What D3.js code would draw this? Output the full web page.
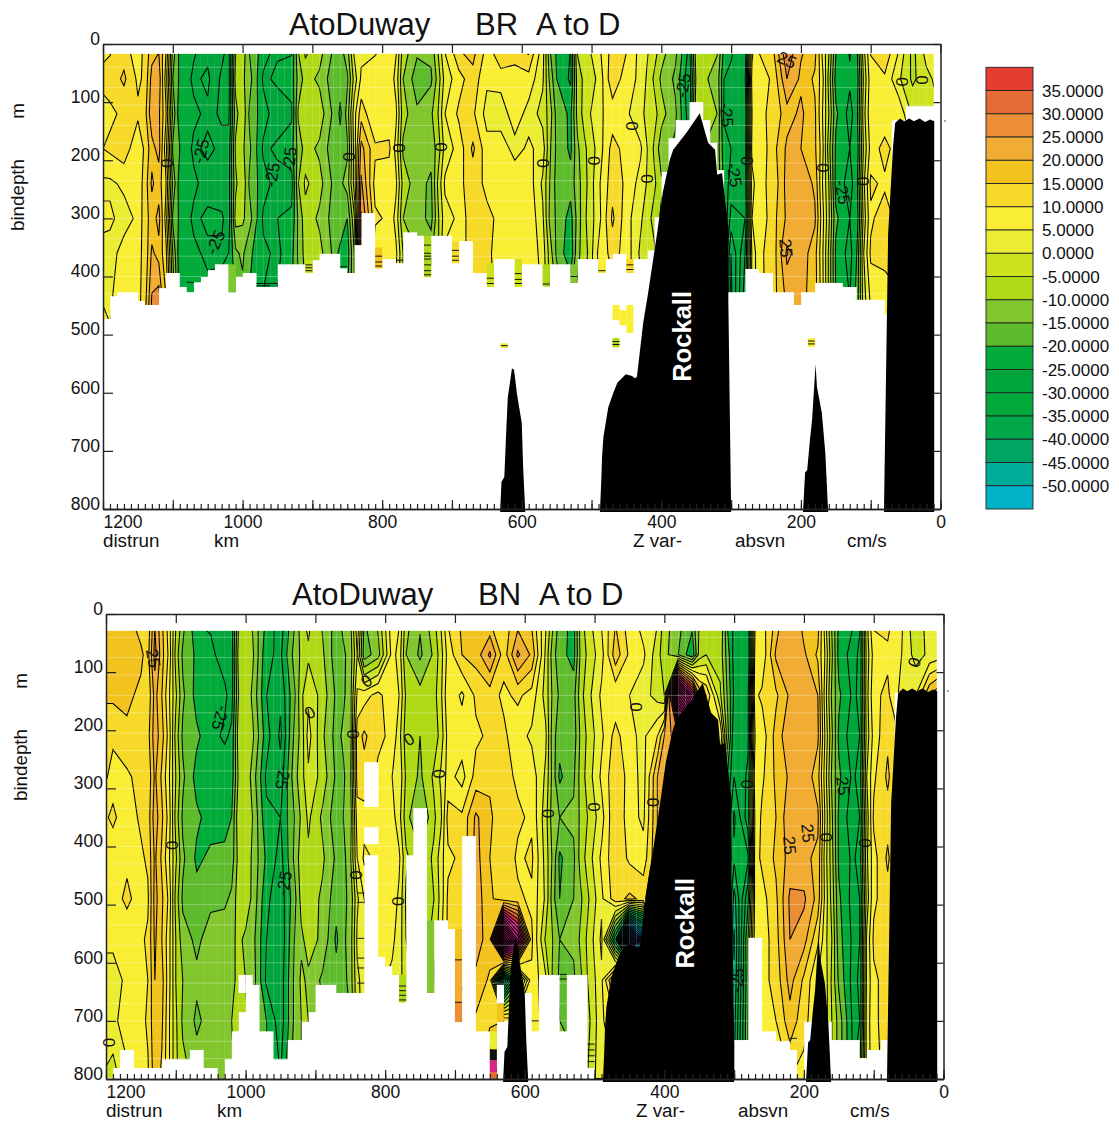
<!DOCTYPE html>
<html>
<head>
<meta charset="utf-8">
<script src="https://cdn.jsdelivr.net/npm/d3@7"></script>
<style>
  body { margin: 0; background: #fff; }
  text { font-family: "Liberation Sans", Arial, sans-serif; fill: #111; }
</style>
</head>
<body>
<div id="chart"></div>
<script>
const legendLevels = [35,30,25,20,15,10,5,0,-5,-10,-15,-20,-25,-30,-35,-40,-45,-50];
const legendLabels = ["35.0000","30.0000","25.0000","20.0000","15.0000","10.0000","5.0000","0.0000","-5.0000","-10.0000","-15.0000","-20.0000","-25.0000","-30.0000","-35.0000","-40.0000","-45.0000","-50.0000"];
const legendColors = ["#E63D33","#E66A33","#EC8E36","#F0AC33","#F2C21F","#F7DA29","#F9EE34","#EAED31","#CCE21C","#B0D915","#82C62E","#5DBB2C","#00AB39","#00A53B","#00A93A","#00A84A","#00A566","#00AB97","#00B2C6"];

// km of each profile, same for both sections
const profileKm = [1210,1190,1170,1150,1140,1130,1120,1110,1100,1090,1070,1050,1030,1020,1010,1000,990,970,950,930,
  920,910,890,870,860,850,840,830,810,790,780,770,750,730,720,710,690,670,650,630,
  610,590,570,560,550,530,520,510,490,470,450,430,410,400,380,360,350,340,320,310,
  300,280,270,260,240,220,200,180,170,160,150,130,120,110,100,80,60,40,20,0];

const brDepths = [0,60,120,180,240,300,360,480];
const brGrid = [
[7,11,6,9,4,6,4,6],[9,12,9,11,4,6,3,5],[12,16,11,13,6,3,7,7],[6,9,11,6,7,6,9,8],[12,11,13,11,12,13,11,14],
[17,22,24,18,21,17,21,28],[19,23,21,22,17,22,18,33],[11,8,11,7,11,8,12,17],[-11,-15,-11,-16,-11,-16,-10,-5],[-22,-21,-24,-20,-23,-21,-24,-20],
[-24,-26,-24,-26,-24,-26,-24,-19],[-27,-24,-26,-24,-27,-24,-26,-22],[-28,-31,-32,-26,-29,-24,-26,-21],[-31,-32,-31,-28,-27,-28,-25,-22],[-11,-8,-12,-9,-11,-8,-16,-20],
[-6,-9,-6,-9,-6,-9,-14,-18],[-16,-13,-16,-14,-16,-13,-19,-21],[-22,-26,-23,-26,-23,-26,-24,-26],[-26,-24,-28,-24,-27,-25,-26,-24],[-26,-23,-26,-22,-27,-24,-22,-20],
[-9,-13,-9,-13,-10,-14,-14,-16],[-3,-8,-5,-8,-4,-7,-8,-11],[-7,-11,-7,-11,-8,-11,-8,-11],[-15,-18,-16,-18,-16,-17,-16,-16],[-16,-18,-21,-18,-16,-15,-22,-16],
[-11,-16,-13,-16,-13,-20,-23,-20],[2,-3,3,2,2,-6,-10,-10],[3,6,13,22,26,31,32,5],[4,7,5,11,8,11,6,9],[6,9,7,11,7,9,6,5],
[6,3,6,3,6,3,6,3],[-7,-10,-8,-11,-7,-10,-5,-6],[-13,-18,-14,-11,-13,-12,-10,-6],[-13,-16,-11,-13,-16,-17,-11,-5],[-4,-8,-5,-8,-4,-6,-6,-3],
[6,2,5,2,6,3,6,5],[16,8,11,7,9,6,9,8],[18,13,11,16,12,14,11,12],[9,6,3,7,9,11,12,12],[17,7,2,8,7,9,6,8],
[16,6,8,3,9,7,8,8],[18,8,3,6,8,9,9,8],[3,1,-2,3,-1,1,3,5],[-15,-11,-7,-9,-10,-11,-7,-5],[-21,-20,-17,-16,-17,-16,-16,-8],
[-25,-26,-21,-21,-18,-22,-24,-10],[-4,-7,-8,-11,-12,-13,-11,-8],[-2,-4,-3,-6,-7,-6,-8,-5],[4,1,4,2,4,3,6,4],[12,14,7,12,13,16,12,6],
[11,7,6,8,9,7,8,6],[3,4,1,6,3,1,-1,3],[-2,-6,-3,-6,-4,-7,-4,-5],[-7,-11,-8,-13,-9,-11,-9,-10],[-13,-16,-14,-16,-13,-15,-14,-14],
[-26,-29,-28,-25,-26,-24,-26,-25],[-6,-9,-6,-9,-7,-9,-7,-8],[-6,-9,-7,-10,-7,-9,-7,-8],[-9,-12,-10,-12,-10,-12,-11,-12],[-21,-25,-26,-23,-22,-20,-23,-24],
[-24,-26,-27,-25,-27,-32,-40,-42],[-29,-26,-29,-28,-28,-30,-25,-20],[3,7,5,7,3,5,1,2],[11,7,9,6,9,6,9,8],[15,11,11,13,11,13,12,13],
[31,25,18,21,22,21,26,20],[21,19,21,20,24,21,23,21],[18,14,16,16,19,21,17,18],[4,8,6,8,6,8,7,8],[-4,-7,-5,-8,-5,-4,-6,-6],
[-19,-22,-19,-21,-22,-19,-21,-20],[-26,-24,-27,-25,-27,-25,-27,-24],[-21,-24,-22,-24,-22,-24,-20,-18],[-1,-4,-2,-4,-1,-3,0,-3],[11,8,9,7,11,9,11,4],
[16,9,6,12,9,13,11,7],[6,1,9,7,11,8,11,9],[-7,-6,-1,5,5,5,5,5],[4,-2,-1,5,5,5,5,5],[5,3,0,5,5,5,5,5]
];

const bnDepths = [0,70,140,210,280,350,420,490,560,630,700,800];
const bnGrid = [
[17,18,16,11,13,8,11,4,6,3,3,0],[16,18,16,11,8,11,7,8,6,3,4,-3],[16,17,16,14,9,7,9,11,7,6,7,4],[12,16,14,13,12,11,9,8,9,9,8,8],[11,13,11,13,11,12,11,9,11,10,11,9],
[24,27,22,23,21,23,21,22,21,20,19,18],[16,17,15,17,14,16,14,16,15,17,16,14],[7,9,6,8,6,8,6,9,7,7,6,6],[-4,-7,-4,-7,-5,-7,-4,-7,-5,-5,-4,-4],[-12,-16,-14,-16,-14,-16,-14,-16,-13,-10,-11,-8],
[-26,-21,-22,-19,-22,-19,-21,-18,-16,-14,-16,-12],[-26,-24,-21,-23,-21,-22,-19,-16,-13,-14,-13,-12],[-26,-27,-24,-26,-21,-23,-18,-16,-12,-11,-11,-11],[-28,-27,-27,-24,-23,-20,-18,-14,-11,-11,-10,-11],[-11,-8,-10,-7,-9,-6,-8,-7,-9,-9,-9,-8],
[-6,-8,-6,-8,-6,-8,-6,-7,-11,-10,-8,-8],[-11,-9,-11,-9,-12,-10,-11,-11,-13,-12,-16,-14],[-21,-24,-25,-23,-26,-24,-21,-24,-25,-26,-20,-20],[-28,-26,-29,-31,-28,-25,-27,-28,-29,-28,-28,-25],[-16,-13,-16,-14,-12,-15,-14,-17,-15,-14,-14,-12],
[-6,-9,-6,-8,-7,-9,-7,-8,-11,-9,-10,-10],[-3,-6,-1,2,-1,-4,-6,-7,-8,-11,-10,-10],[-11,-9,-7,-9,-7,-11,-9,-11,-11,-16,-14,-15],[-17,-18,-16,-17,-16,-18,-16,-18,-21,-18,-17,-17],[-13,-16,-16,-14,-16,-15,-17,-16,-16,-17,-17,-17],
[-11,-13,-12,-13,-11,-13,-11,-14,-13,-13,-15,-15],[5,0,6,13,12,8,5,-1,1,-1,-2,-5],[-15,-18,8,16,13,8,11,5,3,2,2,2],[-8,-12,12,11,9,7,9,6,7,6,7,5],[9,7,5,9,5,7,6,8,6,4,6,5],
[6,3,5,2,4,2,6,4,3,2,3,3],[-8,-10,-6,-8,-6,-8,-4,-6,-5,-3,-3,-5],[-14,-16,-8,-10,-11,-16,-9,-8,-7,-9,-10,-10],[-6,-9,-7,-8,-4,-6,-4,-5,-4,-6,-10,-10],[1,-2,-1,-3,1,-1,3,2,4,2,3,3],
[11,7,9,7,7,12,9,11,11,13,12,10],[16,15,4,8,3,11,11,13,12,14,20,25],[18,17,11,9,12,21,22,23,22,19,14,14],[13,26,12,11,14,16,15,16,18,14,13,30],[14,12,9,11,12,11,14,12,100,-50,15,15],
[16,26,11,7,9,11,9,11,60,-20,12,12],[13,19,8,4,8,9,11,9,11,9,9,8],[1,-1,-2,1,-1,-3,-2,-1,-6,1,2,2],[-8,-13,-11,-13,-12,-13,-11,-13,-10,-11,-8,-8],[-17,-18,-16,-18,-21,-15,-21,-20,-15,-16,-15,-10],
[-22,-22,-17,-18,-16,-14,-16,-15,-14,-16,-20,-10],[-7,-9,-7,-9,-8,-9,-8,-11,-9,-11,-10,-8],[-2,-4,-2,-4,-3,-5,-3,-6,-4,-5,-7,-5],[6,3,6,4,6,3,6,4,6,4,4,4],[14,18,6,12,14,15,14,13,-30,25,10,5],
[7,9,5,6,8,7,9,16,-120,45,20,10],[2,6,2,4,3,4,7,14,-80,30,20,10],[1,-3,-2,10,20,20,20,20,20,20,20,20],[-7,-8,-5,20,20,20,20,20,20,20,20,20],[-14,-15,90,30,20,20,20,20,20,20,20,20],
[-17,-24,50,20,20,20,20,20,20,20,20,20],[-10,-8,20,10,10,10,10,10,10,10,10,10],[-7,-5,15,5,5,5,5,5,5,5,5,5],[-4,-7,-4,10,0,0,0,0,0,0,0,0],[-21,-17,-15,-12,-20,-25,-25,-25,-25,-25,-25,-25],
[-26,-27,-26,-29,-30,-36,-34,-42,-46,-44,-42,-40],[-28,-30,-26,-26,-24,-22,-31,-21,-15,-16,-15,-15],[4,7,9,5,9,6,8,7,8,5,7,7],[8,6,11,7,9,11,11,8,7,8,9,8],[16,21,14,17,16,15,16,14,13,12,10,7],
[26,21,21,24,21,24,22,26,25,22,18,10],[17,21,23,21,24,22,21,26,22,14,12,8],[19,14,20,21,17,21,19,18,11,5,5,5],[2,5,3,5,3,5,3,4,2,3,3,3],[-11,-9,-11,-9,-11,-9,-8,-7,-5,-6,-5,-5],
[-21,-22,-19,-21,-19,-21,-21,-19,-18,-16,-12,-12],[-24,-27,-26,-28,-26,-28,-26,-27,-26,-27,-26,-25],[-26,-24,-24,-25,-23,-25,-23,-25,-25,-24,-25,-20],[-1,-3,-2,-3,0,-3,-1,-3,1,1,2,2],[12,7,9,7,9,11,8,9,11,9,9,8],
[12,9,11,14,16,13,16,13,11,12,12,12],[6,5,3,9,8,9,7,8,9,7,8,8],[-5,-2,5,5,5,5,5,5,5,5,5,5],[4,1,20,5,5,5,5,5,5,5,5,5],[6,3,28,5,5,5,5,5,5,5,5,5]
];

// deepest valid bin in each 10 km column, 1200 km side first
const brBottoms = [473,434,427,427,427,442,449,449,420,394,394,418,427,410,401,389,379,379,427,401,
  394,394,418,418,418,379,379,379,379,394,372,361,361,361,386,394,346,291,291,386,
  370,370,377,324,324,330,401,330,330,330,377,339,339,394,394,418,370,370,370,418,
  379,379,379,417,379,379,379,411,370,370,370,394,370,361,361,394,370,370,355,298,
  220,162,131,131,100,100,131,170,217,427,427,427,387,387,394,394,427,427,427,449,
  427,427,411,411,411,411,418,418,440,440,440,440,465,131,131,107,107,107,107,0];
const bnBottoms = [798,781,750,750,781,781,781,781,766,766,766,766,750,750,781,781,799,766,718,685,
  621,638,718,718,766,766,733,733,702,685,638,638,638,652,652,652,652,415,415,590,
  606,621,668,415,334,334,652,527,527,542,702,382,382,718,718,799,702,700,652,652,
  652,718,621,621,621,718,621,621,621,781,800,800,800,800,800,800,800,800,800,800,
  800,800,800,800,800,800,800,800,800,800,733,733,557,557,718,718,735,735,750,799,
  702,702,702,702,733,733,733,733,764,750,750,733,800,135,135,135,135,135,135,0];

// [column, top depth, bottom depth, value], value null is a black stripe
const brPatches = [[57,515,523,3],[73,506,522,-10],[73,449,475,7],[74,458,484,8],[75,449,497,8],[101,506,521,8],
  [18,379,427,-12],[46,330,401,-8],[39,350,386,18],[55,377,418,-5],[59,370,418,-5],[29,372,394,-5],[67,379,411,-12],
  [63,379,417,-7],[71,370,394,5],[75,370,394,12],[50,340,377,12]];
const bnPatches = [[46,527,652,-12],[50,542,595,17],[50,595,668,22],[50,668,702,26],[55,718,749,3],[55,749,768,null],
  [55,768,788,40],[55,788,799,30],[56,670,702,15],[42,620,668,-7]];
const bnHoles = [[37,255,332],[38,255,332],[37,367,396],[38,367,396],[19,621,652],[56,638,670]];

const brDashes = [[29,380],[29,385],[29,390],[42,372],[46,346],[46,360],[46,365],[46,370],[46,380],[46,390],[46,397],
  [50,355],[50,365],[50,372],[39,365],[39,375],[39,382],[55,403],[55,412],[59,395],[59,405],[59,412],[22,412],[23,412],
  [24,412],[22,416],[23,416],[12,410],[34,383],[63,413],[67,400],[71,390],[75,380],[75,388],[57,519],[73,512],[73,517],[101,511],[101,516]];
const bnDashes = [[36,480],[36,496],[36,558],[36,592],[36,609],[36,635],[42,640],[42,648],[42,656],[42,664],[50,595],[50,668],
  [61,700],[65,620],[65,628],[69,740],[69,750],[69,760],[69,770],[98,730]];

// sea bed outlines as [km, depth]
const bigRock = [[488,805],[486,750],[485,711],[483,676],[479,647],[476,625],[469,601],[463,583],[451,568],[442,571],[438,575],[435,573],[426,480],[419,429],[406,325],[398,256],[388,200],[383,182],[363,151],[345,119],[333,170],[323,182],[320,225],[313,222],[304,315],[304,441],[300,805]];
const rockA = [[631,805],[629,753],[625,745],[622,660],[620,608],[616,575],[614,558],[611,561],[609,580],[607,601],[600,652],[598,728],[595,805]];
const rockB = [[197,805],[194,737],[191,733],[187,680],[184,647],[179,551],[177,590],[170,635],[165,704],[161,805]];
const rockC = [[81,805],[76,406],[75,325],[68,177],[65,136],[58,128],[52,133],[45,128],[38,133],[30,128],[22,134],[15,130],[9,133],[9,805]];

const seamDepths = [40,75,105,140,170,205,235,270,300,335,365,400,430,465,500,535,570,600,635,670,700,735,765];

// contour labels: km, depth, text, rotation
const brLabels = [[1108,205,"0",90],[847,194,"0",90],[776,179,"0",90],[716,177,"0",90],[569,205,"0",90],[496,201,"0",90],[420,232,"0",90],[442,141,"0",90],[277,201,"0",90],[168,213,"0",90],[111,236,"0",90],[55,65,"0",90],[27,62,"0",90],
  [1060,184,"-25",-75],[1039,341,"-25",-65],[958,225,"-25",-80],[933,198,"-25",-85],[369,71,"-25",-80],[306,122,"-25",85],[295,225,"-25",80],[140,255,"-25",80],[221,351,"25",85],[220,27,"25",25]];
const bnLabels = [[1105,398,"0",90],[908,169,"0",-30],[846,207,"0",90],[827,115,"0",-35],[766,215,"0",-30],[723,275,"0",90],[842,449,"0",90],[781,494,"0",90],[1196,737,"0",90],[567,343,"0",90],[501,332,"0",90],[440,160,"0",90],[281,293,"0",90],[168,384,"0",90],[112,394,"0",90],[42,83,"0",-70],[416,324,"0",90],
  [1132,76,"25",80],[1036,179,"-25",105],[946,281,"-25",100],[945,463,"-25",-80],[144,291,"-25",85],[220,398,"25",85],[194,377,"25",85],[296,630,"-25",-85]];

const levels = d3.range(-150, 155, 5);
const legendScale = d3.scaleThreshold()
  .domain(legendLevels.slice().reverse())
  .range(legendColors.slice().reverse());
function bandColor(t) {
  if (t >= 40) return "#D9268C";
  if (t <= -80) return "#2A5CA8";
  return legendScale(t + 0.1);
}

const svg = d3.select("#chart").append("svg")
  .attr("width", 1119)
  .attr("height", 1121);

function drawPanel(id, dx, dy, grid, depths, bottoms, patches, holes, dashes, labels, topDepth, name, rockY) {
  const x = d3.scaleLinear().domain([1200, 0]).range([103 + dx, 940.5 + dx]);
  const y = d3.scaleLinear().domain([0, 800]).range([44 + dy, 509 + dy]);
  const g = svg.append("g");

  const clip = svg.append("clipPath").attr("id", "mask" + id);
  clip.selectAll("rect")
    .data(bottoms)
    .enter()
    .append("rect")
    .attr("x", (d, k) => x(1200 - 10 * k))
    .attr("width", 7.2)
    .attr("y", y(topDepth))
    .attr("height", d => Math.max(0, y(d) - y(topDepth)));

  const flat = [];
  depths.forEach((d, j) => profileKm.forEach((km, i) => flat.push(grid[i][j])));
  const contours = d3.contours()
    .size([profileKm.length, depths.length])
    .thresholds(levels)(flat);

  // contour coordinates are grid cells, the profiles are not evenly spaced
  const ix = d3.scaleLinear().domain(profileKm.map((d, i) => i + 0.5)).range(profileKm.map(x)).clamp(true);
  const iy = d3.scaleLinear().domain(depths.map((d, j) => j + 0.5)).range(depths.map(y)).clamp(true);
  const path = d3.geoPath(d3.geoTransform({
    point: function(a, b) { this.stream.point(ix(a), iy(b)); }
  }));

  const field = g.append("g").attr("clip-path", `url(#mask${id})`);
  field.selectAll("path.fill")
    .data(contours)
    .enter()
    .append("path")
    .attr("class", "fill")
    .attr("d", path)
    .attr("fill", d => bandColor(d.value));
  field.selectAll("path.iso")
    .data(contours.filter(d => d.coordinates.length))
    .enter()
    .append("path")
    .attr("class", "iso")
    .attr("d", path)
    .attr("fill", "none")
    .attr("stroke", "#000")
    .attr("stroke-width", 1.05);

  field.selectAll("line.seam")
    .data(seamDepths)
    .enter()
    .append("line")
    .attr("class", "seam")
    .attr("x1", x(1200))
    .attr("x2", x(0))
    .attr("y1", d => y(d))
    .attr("y2", d => y(d))
    .attr("stroke", "#fff")
    .attr("stroke-opacity", 0.3);

  g.selectAll("rect.patch")
    .data(patches)
    .enter()
    .append("rect")
    .attr("class", "patch")
    .attr("x", d => x(1200 - 10 * d[0]))
    .attr("width", 7)
    .attr("y", d => y(d[1]))
    .attr("height", d => y(d[2]) - y(d[1]))
    .attr("fill", d => d[3] === null ? "#111" : bandColor(d[3]));

  g.selectAll("rect.hole")
    .data(holes)
    .enter()
    .append("rect")
    .attr("class", "hole")
    .attr("x", d => x(1200 - 10 * d[0]))
    .attr("width", 7.2)
    .attr("y", d => y(d[1]))
    .attr("height", d => y(d[2]) - y(d[1]))
    .attr("fill", "#fff");

  g.selectAll("line.dash")
    .data(dashes)
    .enter()
    .append("line")
    .attr("class", "dash")
    .attr("x1", d => x(1200 - 10 * d[0]))
    .attr("x2", d => x(1190 - 10 * d[0]))
    .attr("y1", d => y(d[1]))
    .attr("y2", d => y(d[1]))
    .attr("stroke", "#111");

  const rockLine = d3.line().x(d => x(d[0])).y(d => y(d[1]));
  g.selectAll("path.rock")
    .data([bigRock, rockA, rockB, rockC])
    .enter()
    .append("path")
    .attr("class", "rock")
    .attr("d", d => rockLine(d) + "Z")
    .attr("fill", "#000");

  g.selectAll("text.clabel")
    .data(labels)
    .enter()
    .append("text")
    .attr("class", "clabel")
    .attr("transform", d => `translate(${x(d[0])},${y(d[1])}) rotate(${d[3]})`)
    .attr("text-anchor", "middle")
    .attr("dy", "0.36em")
    .attr("font-size", "17px")
    .text(d => d[2]);

  g.append("text")
    .attr("transform", `translate(${x(357)},${y(rockY)}) rotate(-90)`)
    .attr("text-anchor", "middle")
    .attr("font-size", "25.5px")
    .attr("font-weight", "bold")
    .style("fill", "#fff")
    .text("Rockall");

  // axes
  const ax = g.append("g").attr("class", "axes");
  const hundreds = d3.range(0, 1201, 100);
  ax.append("g").attr("transform", `translate(0,${y(800)})`)
    .call(d3.axisBottom(x).tickValues(d3.range(0, 1201, 10)).tickSize(-5).tickSizeOuter(0).tickFormat(""));
  const bottom = ax.append("g").attr("transform", `translate(0,${y(800)})`)
    .call(d3.axisBottom(x).tickValues(hundreds).tickSize(-9).tickSizeOuter(0).tickPadding(7)
      .tickFormat(d => d % 200 === 0 ? d : ""));
  bottom.selectAll("text").attr("text-anchor", d => d === 1200 ? "start" : "middle");
  ax.append("g").attr("transform", `translate(0,${y(0)})`)
    .call(d3.axisTop(x).tickValues(hundreds).tickSize(-9).tickSizeOuter(0).tickFormat(""));
  const left = ax.append("g").attr("transform", `translate(${x(1200)},0)`)
    .call(d3.axisLeft(y).tickValues(d3.range(0, 801, 100)).tickSize(-10).tickSizeOuter(0).tickPadding(3));
  left.selectAll("text").attr("dy", "0.02em");
  ax.append("g").attr("transform", `translate(${x(0)},0)`)
    .call(d3.axisRight(y).tickValues(d3.range(0, 801, 100)).tickSize(-7).tickSizeOuter(0).tickFormat(""));
  ax.selectAll("path.domain").attr("stroke", "#222").attr("stroke-width", 1.5);
  ax.selectAll(".tick line").attr("stroke", "#222").attr("stroke-width", 1.2);
  ax.selectAll("text").attr("font-size", "17.5px").attr("font-family", "Liberation Sans").attr("fill", "#111");

  // titles and captions
  const title = [["AtoDuway", 289], [name, 475], ["A to D", 536]];
  g.selectAll("text.title")
    .data(title)
    .enter()
    .append("text")
    .attr("class", "title")
    .attr("x", d => d[1] + dx)
    .attr("y", 35 + dy)
    .attr("font-size", "31px")
    .text(d => d[0]);
  const captions = [["distrun", 103], ["km", 214], ["Z var-", 633], ["absvn", 735], ["cm/s", 847]];
  g.selectAll("text.caption")
    .data(captions)
    .enter()
    .append("text")
    .attr("class", "caption")
    .attr("x", d => d[1] + dx)
    .attr("y", 547 + dy)
    .attr("font-size", "18.8px")
    .text(d => d[0]);
  g.append("text")
    .attr("transform", `translate(${24 + dx},${195 + dy}) rotate(-90)`)
    .attr("text-anchor", "middle")
    .attr("font-size", "18.8px")
    .text("bindepth");
  g.append("text")
    .attr("transform", `translate(${24 + dx},${111 + dy}) rotate(-90)`)
    .attr("text-anchor", "middle")
    .attr("font-size", "18.8px")
    .text("m");
  g.append("circle")
    .attr("cx", 945 + dx)
    .attr("cy", 121 + dy)
    .attr("r", 0.8)
    .attr("fill", "#333");
}

drawPanel("br", 0, 0, brGrid, brDepths, brBottoms, brPatches, [], brDashes, brLabels, 17, "BR", 503);
drawPanel("bn", 3, 570, bnGrid, bnDepths, bnBottoms, bnPatches, bnHoles, bnDashes, bnLabels, 29, "BN", 532);

// colour key
const keyY = d3.scaleLinear().domain([0, legendColors.length]).range([67.3, 509]);
const key = svg.append("g");
key.selectAll("rect")
  .data(legendColors)
  .enter()
  .append("rect")
  .attr("x", 986)
  .attr("width", 47)
  .attr("y", (d, i) => keyY(i))
  .attr("height", keyY(1) - keyY(0))
  .attr("fill", d => d)
  .attr("stroke", "#222")
  .attr("stroke-width", 0.9);
key.selectAll("text")
  .data(legendLabels)
  .enter()
  .append("text")
  .attr("x", 1042)
  .attr("y", (d, i) => keyY(i + 1))
  .attr("dy", "0.36em")
  .attr("font-size", "17px")
  .text(d => d);
</script>
</body>
</html>
